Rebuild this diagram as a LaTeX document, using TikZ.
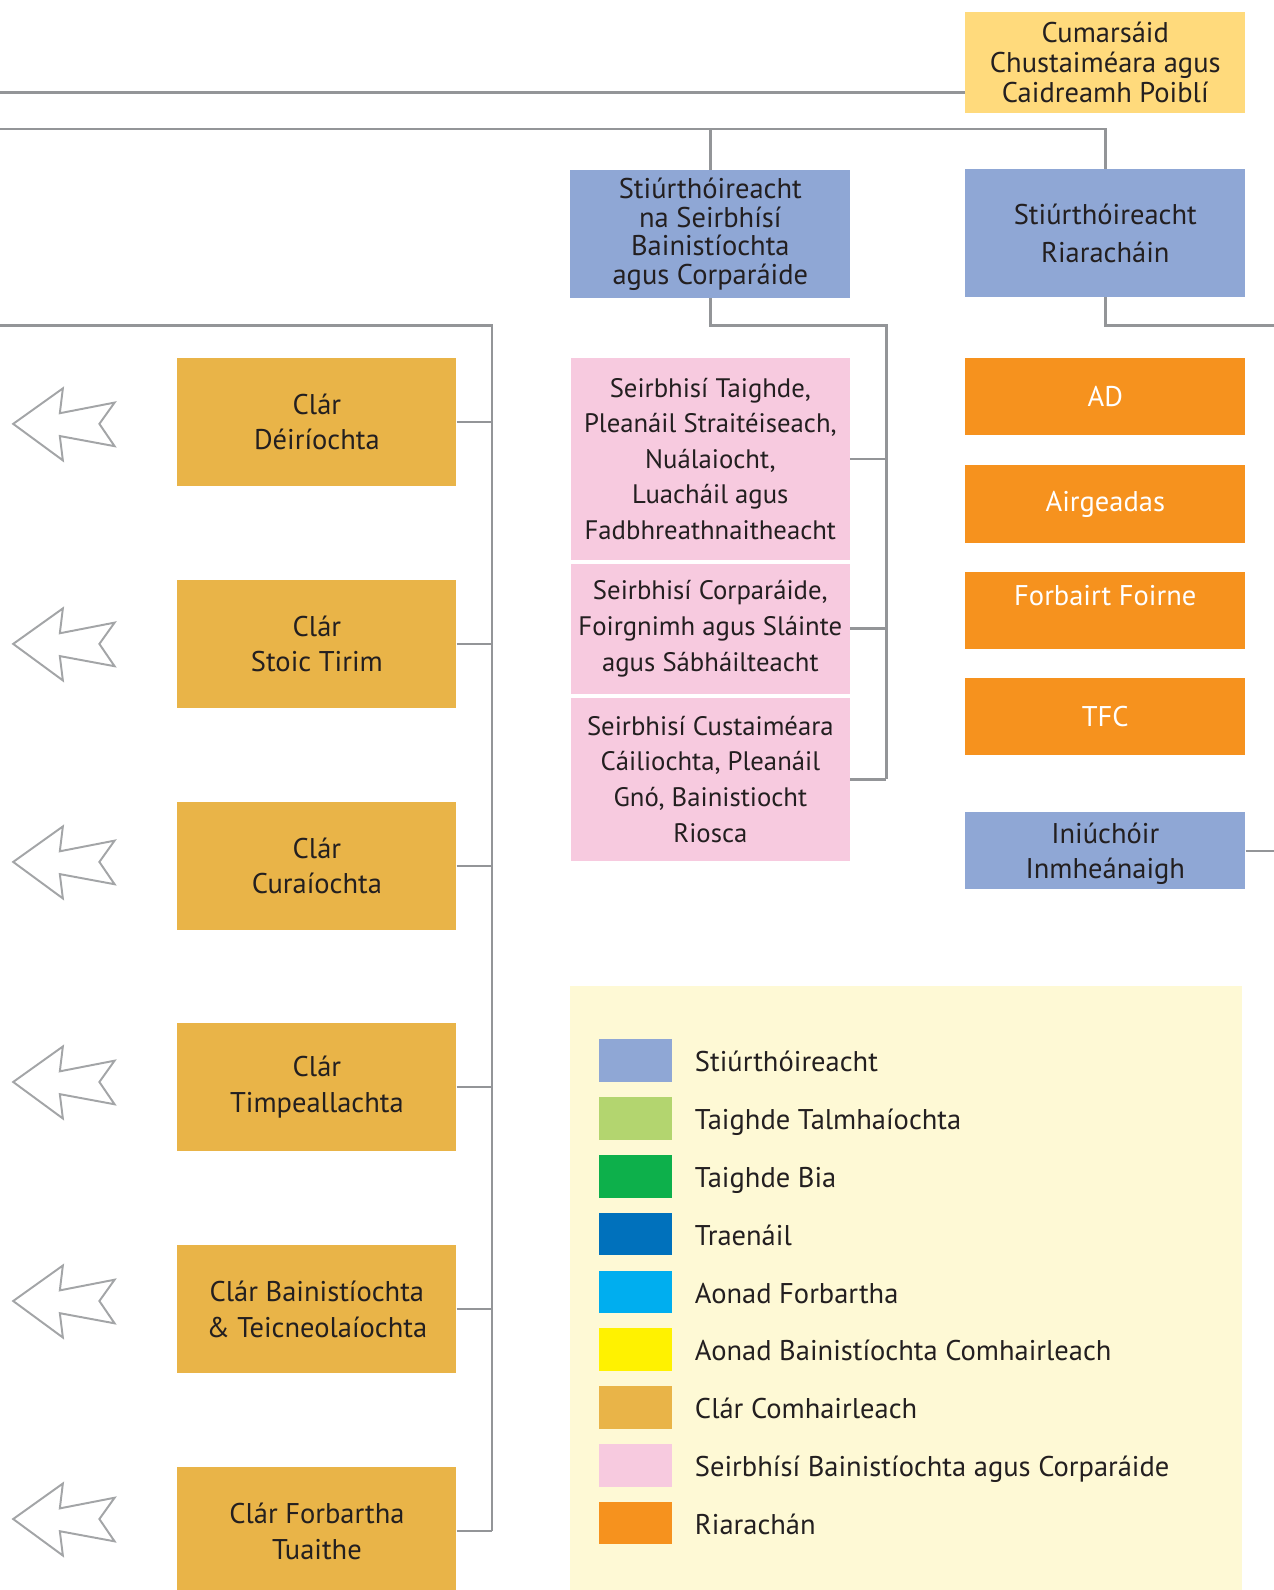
\documentclass[tikz,border=0pt]{standalone}
\usepackage{fontspec}
\setmainfont{PT Sans}
\usepackage{tikz}

\definecolor{dirblue}{HTML}{8FA7D5}
\definecolor{clargold}{HTML}{E9B448}
\definecolor{seirpink}{HTML}{F7CADF}
\definecolor{riarorange}{HTML}{F6921E}
\definecolor{custyellow}{HTML}{FFDA7C}
\definecolor{legendbg}{HTML}{FEF9D5}
\definecolor{talgreen}{HTML}{B3D56F}
\definecolor{biagreen}{HTML}{0DB04B}
\definecolor{traenblue}{HTML}{0071BC}
\definecolor{aonadcyan}{HTML}{00AEEF}
\definecolor{abcyellow}{HTML}{FFF200}
\definecolor{linegray}{HTML}{939598}
\definecolor{textdark}{HTML}{231F20}

\tikzset{
	unit/.style={align=center, inner sep=0pt, text=textdark,
		font=\fontsize{16}{20}\selectfont},
	clar/.style={unit, fill=clargold, minimum width=5.5cm, minimum height=2.52cm},
	stiur/.style={unit, fill=dirblue, minimum width=5.52cm, minimum height=2.52cm},
	seir/.style={unit, fill=seirpink, minimum width=5.5cm, font=\fontsize{15}{20}\selectfont},
	riar/.style={unit, fill=riarorange, text=white, minimum width=5.52cm, minimum height=1.52cm},
	conn/.style={draw=linegray, line width=1.4pt},
	outarrow/.style={draw=linegray!85, line width=1.1pt, line join=miter},
	swatch/.style={minimum width=1.44cm, minimum height=0.84cm, inner sep=0pt},
	legtext/.style={anchor=base west, inner sep=0pt, text=textdark, font=\fontsize{16}{20}\selectfont}
}

\begin{document}
\begin{tikzpicture}[x=0.02cm, y=-0.02cm]
	\useasboundingbox (0,0) rectangle (1256,1568);

	% legend background
	\fill[legendbg] (562,972) rectangle (1225,1580);

	% top right
	\node[unit, fill=custyellow, minimum width=5.52cm, minimum height=1.98cm,
		font=\fontsize{16}{16.8}\selectfont] (cust) at (1090,61.5)
		{Cumarsáid\\Chustaiméara agus\\Caidreamh Poiblí};
	\node[stiur, font=\fontsize{16}{16}\selectfont] (dirA) at (700.5,231)
		{Stiúrthóireacht\\na Seirbhísí\\Bainistíochta\\agus Corparáide};
	\node[stiur, font=\fontsize{16}{21}\selectfont] (dirB) at (1090,230)
		{Stiúrthóireacht\\Riaracháin};

	% clár boxes
	\node[clar] (c1) at (312.5,416) {Clár\\Déiríochta};
	\node[clar] (c2) at (312.5,635) {Clár\\Stoic Tirim};
	\node[clar] (c3) at (312.5,854) {Clár\\Curaíochta};
	\node[clar] (c4) at (312.5,1072) {Clár\\Timpeallachta};
	\node[clar] (c5) at (312.5,1291) {Clár Bainistíochta\\\& Teicneolaíochta};
	\node[clar] (c6) at (312.5,1510) {Clár Forbartha\\Tuaithe};

	% seirbhísí
	\node[seir, minimum height=3.98cm] (p1) at (700.5,452.5)
		{Seirbhisí Taighde,\\Pleanáil Straitéiseach,\\Nuálaiocht,\\Luacháil agus\\Fadbhreathnaitheacht};
	\node[seir, minimum height=2.56cm] (p2) at (700.5,620)
		{Seirbhisí Corparáide,\\Foirgnimh agus Sláinte\\agus Sábháilteacht};
	\node[seir, minimum height=3.22cm] (p3) at (700.5,768.5)
		{Seirbhisí Custaiméara\\Cáiliochta, Pleanáil\\Gnó, Bainistiocht\\Riosca};

	% riarachán
	\node[riar] (r1) at (1090,391) {AD};
	\node[riar] (r2) at (1090,497) {Airgeadas};
	\node[riar, text depth=0.6cm] (r3) at (1090,602) {Forbairt Foirne};
	\node[riar] (r4) at (1090,707) {TFC};
	\node[stiur, minimum height=1.52cm, text depth=0pt] (audit) at (1090,839)
		{Iniúchóir\\Inmheánaigh};

	% loose ends
	\coordinate (edgeA) at (0,91);
	\coordinate (edgeB) at (0,127);
	\coordinate (edgeC) at (0,321);
	\coordinate (spine) at (485,321);
	\coordinate (pinkbus) at (874,321);
	\coordinate (rightend) at (1256,321);

	% connectors
	\draw[conn] (edgeA) -- (edgeA -| cust.west);
	\draw[conn] (edgeB) -- (edgeB -| dirB.north) -- (dirB.north);
	\draw[conn] (edgeB -| dirA.north) -- (dirA.north);
	\draw[conn] (dirA.south) |- (pinkbus) -- (pinkbus |- p3.east);
	\draw[conn] (dirB.south) |- (rightend);
	\draw[conn] (audit.east) -- (audit.east -| rightend);
	\draw[conn] (edgeC) -- (spine) -- (spine |- c6.east);
	\foreach \n in {c1,c2,c3,c4,c5,c6}
		\draw[conn] (\n.east) -- (\n.east -| spine);
	\foreach \n in {p1,p2,p3}
		\draw[conn] (\n.east) -- (\n.east -| pinkbus);

	% outline arrows
	\foreach \y in {418,635,850,1067,1283,1498}
		\draw[outarrow] (13,\y) -- (62,\y-35) -- (59,\y-10.5) -- (113,\y-21) -- (98,\y)
			-- (113,\y+22) -- (59,\y+12) -- (62,\y+36) -- cycle;

	% legend
	\foreach \col/\txt [count=\i from 0] in {dirblue/Stiúrthóireacht, talgreen/Taighde Talmhaíochta,
		biagreen/Taighde Bia, traenblue/Traenáil, aonadcyan/Aonad Forbartha,
		abcyellow/Aonad Bainistíochta Comhairleach, clargold/Clár Comhairleach,
		seirpink/Seirbhísí Bainistíochta agus Corparáide, riarorange/Riarachán} {
		\node[swatch, fill=\col] (sw\i) at (627,1046+57*\i) {};
		\node[legtext] (lg\i) at (685,1057+57*\i) {\txt};
	}
\end{tikzpicture}
\end{document}
